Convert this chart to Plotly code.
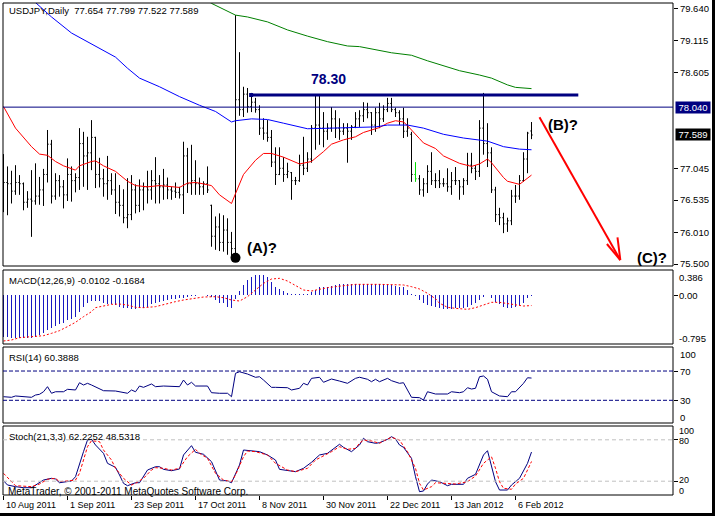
import plotly.graph_objects as go

# ---------------- data (bar index 0 = 10 Aug 2011, weekdays) ----------------
bar_open = [76.85, 76.82, 76.80, 76.68, 76.82, 76.80, 76.50, 76.55, 76.52, 76.60,
            76.70, 76.95, 77.44, 76.60, 76.85, 76.75, 76.62, 76.95, 76.85, 76.90,
            77.45, 77.25, 77.30, 77.55, 76.95, 76.88, 76.80, 76.85, 76.70, 76.50,
            76.45, 76.25, 76.30, 76.70, 76.45, 76.70, 76.75, 76.70, 76.85, 76.80,
            76.75, 76.78, 76.70, 76.68, 76.66, 76.62, 77.25, 76.80, 76.85, 76.80,
            76.75, 76.80, 76.45, 75.95, 76.10, 75.85, 76.05, 75.85, 75.75, 78.16,
            78.00, 78.25, 78.05, 78.12, 78.00, 77.70, 77.62, 77.55, 77.15, 76.95,
            77.05, 76.95, 76.98, 76.85, 76.85, 77.10, 77.05, 77.20, 77.70, 77.75,
            77.70, 77.65, 77.70, 77.85, 77.70, 77.65, 77.70, 77.65, 77.72, 77.85,
            77.90, 78.00, 77.95, 77.75, 77.95, 77.85, 78.00, 78.10, 78.00, 77.95,
            77.85, 77.65, 77.60, 76.95, 76.88, 76.70, 76.80, 77.00, 76.85, 76.85,
            76.80, 76.80, 76.75, 76.85, 76.85, 76.75, 76.85, 77.10, 77.05, 77.00,
            77.70, 77.45, 77.30, 76.70, 76.30, 76.25, 76.15, 76.20, 76.60, 76.60,
            76.85, 77.20, 77.654]
bar_high = [77.28, 77.08, 77.01, 77.10, 76.94, 76.82, 76.68, 77.02, 77.13, 76.91,
            77.04, 77.67, 77.51, 76.97, 76.94, 76.86, 77.21, 77.08, 76.97, 77.70,
            77.64, 77.56, 77.83, 77.56, 77.22, 77.04, 77.25, 76.97, 76.97, 76.78,
            76.71, 76.89, 76.94, 76.79, 76.87, 76.82, 77.01, 77.02, 77.23, 76.94,
            77.04, 76.90, 76.75, 76.82, 76.75, 77.48, 77.38, 77.43, 77.18, 76.90,
            76.84, 77.08, 76.46, 76.27, 76.32, 76.29, 76.24, 76.02, 79.53, 78.93,
            78.37, 78.35, 78.27, 78.19, 78.07, 77.86, 77.83, 77.67, 77.39, 77.39,
            77.23, 77.14, 76.99, 76.91, 77.27, 77.56, 77.31, 77.75, 78.24, 78.24,
            77.96, 77.78, 78.04, 77.99, 77.86, 77.78, 77.78, 77.75, 77.96, 77.99,
            78.12, 78.11, 77.96, 78.03, 78.11, 78.07, 78.19, 78.19, 78.03, 77.99,
            78.03, 77.86, 77.64, 77.15, 76.94, 76.89, 77.10, 77.31, 76.97, 77.02,
            76.89, 77.05, 76.99, 77.07, 76.86, 76.89, 77.30, 77.30, 77.10, 77.83,
            78.27, 77.78, 77.39, 76.75, 76.41, 76.33, 76.25, 76.70, 76.78, 76.94,
            77.31, 77.64, 77.799]
bar_low = [76.34, 76.29, 76.48, 76.62, 76.62, 76.37, 76.41, 75.94, 76.46, 76.46,
           76.44, 76.82, 76.48, 76.54, 76.59, 76.40, 76.52, 76.51, 76.66, 76.70,
           76.75, 76.70, 77.02, 76.73, 76.74, 76.59, 76.54, 76.62, 76.31, 76.27,
           76.16, 76.08, 76.21, 76.32, 76.34, 76.37, 76.48, 76.54, 76.48, 76.48,
           76.54, 76.55, 76.54, 76.57, 76.56, 76.31, 76.65, 76.62, 76.62, 76.62,
           76.62, 76.65, 75.78, 75.73, 75.71, 75.70, 75.65, 75.62, 75.60, 77.90,
           77.88, 77.95, 77.96, 77.95, 77.59, 77.51, 77.48, 77.07, 76.78, 76.94,
           76.83, 76.89, 76.54, 76.78, 76.83, 76.94, 76.99, 77.14, 77.35, 77.43,
           77.39, 77.51, 77.64, 77.54, 77.51, 77.59, 77.14, 77.51, 77.70, 77.72,
           77.80, 77.86, 77.59, 77.64, 77.70, 77.80, 77.96, 77.96, 77.88, 77.75,
           77.54, 77.56, 76.83, 76.83, 76.62, 76.59, 76.65, 76.78, 76.73, 76.73,
           76.75, 76.67, 76.62, 76.78, 76.54, 76.62, 76.78, 76.97, 76.86, 76.91,
           77.27, 77.07, 76.65, 76.18, 76.13, 76.00, 76.02, 76.13, 76.49, 76.54,
           76.83, 76.97, 77.522]
bar_close = [76.82, 76.80, 76.68, 76.82, 76.80, 76.50, 76.55, 76.52, 76.60, 76.70,
             76.95, 77.44, 76.60, 76.85, 76.75, 76.62, 76.95, 76.85, 76.90, 77.45,
             77.25, 77.30, 77.55, 76.95, 76.88, 76.80, 76.85, 76.70, 76.50, 76.45,
             76.25, 76.30, 76.70, 76.45, 76.70, 76.75, 76.70, 76.85, 76.80, 76.75,
             76.78, 76.70, 76.68, 76.66, 76.62, 77.25, 76.80, 76.85, 76.80, 76.75,
             76.80, 76.70, 75.95, 76.10, 75.85, 76.05, 75.85, 75.75, 78.16, 78.00,
             78.25, 78.05, 78.12, 78.00, 77.70, 77.62, 77.55, 77.15, 76.95, 77.05,
             76.95, 77.00, 76.85, 76.85, 77.10, 77.05, 77.20, 77.70, 77.75, 77.70,
             77.65, 77.70, 77.85, 77.70, 77.65, 77.70, 77.65, 77.72, 77.85, 77.90,
             78.00, 77.95, 77.75, 77.95, 77.85, 78.00, 78.10, 78.00, 77.95, 77.85,
             77.65, 77.70, 76.95, 76.88, 76.70, 76.80, 77.00, 76.85, 76.85, 76.80,
             76.80, 76.75, 76.85, 76.85, 76.75, 76.85, 77.10, 77.05, 77.00, 77.70,
             77.45, 77.30, 76.70, 76.30, 76.25, 76.15, 76.20, 76.60, 76.60, 76.85,
             77.20, 77.62, 77.589]
green_bar = 103

red_ma_idx = [0, 3, 7, 9, 11, 13, 15, 18, 19, 22, 23, 25, 28, 31, 33, 36, 39, 42, 44, 46,
              48, 49, 52, 54, 57, 58, 60, 63, 65, 67, 70, 74, 77, 80, 82, 85, 88, 90, 94,
              96, 98, 100, 101, 104, 105, 108, 110, 114, 117, 119, 121, 122, 125, 126, 129, 132]
red_ma_val = [78.05, 77.70, 77.40, 77.28, 77.26, 77.16, 77.09, 77.02, 77.09, 77.16, 77.17,
              77.09, 77.00, 76.84, 76.77, 76.75, 76.77, 76.75, 76.74, 76.81, 76.82, 76.81,
              76.77, 76.62, 76.48, 76.64, 76.95, 77.18, 77.29, 77.29, 77.23, 77.12, 77.16,
              77.32, 77.44, 77.51, 77.56, 77.63, 77.71, 77.78, 77.82, 77.80, 77.74, 77.53,
              77.46, 77.37, 77.25, 77.13, 77.08, 77.12, 77.20, 77.14, 76.90, 76.84, 76.79, 76.94]
blue_ma_idx = [0, 7, 12, 17, 20, 24, 28, 31, 34, 39, 44, 49, 53, 57, 58, 62, 66, 70, 76, 82,
               89, 93, 96, 101, 105, 110, 115, 121, 125, 129, 132]
blue_ma_val = [80.20, 79.80, 79.50, 79.24, 79.13, 78.99, 78.85, 78.67, 78.51, 78.37, 78.21,
               78.07, 77.97, 77.80, 77.82, 77.85, 77.84, 77.78, 77.69, 77.70, 77.71, 77.72,
               77.75, 77.75, 77.70, 77.60, 77.54, 77.49, 77.40, 77.36, 77.35]
green_ma_idx = [50, 52, 58, 61, 66, 71, 76, 81, 86, 89, 97, 102, 106, 111, 114, 119, 122, 126, 128, 132]
green_ma_val = [79.81, 79.72, 79.53, 79.50, 79.42, 79.29, 79.19, 79.10, 79.03, 79.02, 78.92,
                78.88, 78.79, 78.69, 78.63, 78.56, 78.51, 78.40, 78.36, 78.34]

macd_hist = [-0.665, -0.675, -0.68, -0.68, -0.68, -0.68, -0.68, -0.68, -0.665, -0.64,
             -0.61, -0.56, -0.53, -0.50, -0.47, -0.45, -0.40, -0.38, -0.35, -0.27,
             -0.19, -0.13, -0.10, -0.10, -0.10, -0.13, -0.15, -0.15, -0.16, -0.19,
             -0.20, -0.21, -0.22, -0.22, -0.21, -0.20, -0.19, -0.15, -0.13, -0.11,
             -0.10, -0.08, -0.07, -0.065, -0.055, -0.045, -0.03, -0.015, -0.005, 0.0,
             0.0, -0.005, -0.03, -0.08, -0.12, -0.13, -0.19, -0.21, -0.07, 0.06,
             0.16, 0.24, 0.29, 0.32, 0.32, 0.32, 0.29, 0.21, 0.13, 0.10,
             0.06, 0.03, 0.01, 0.005, 0.005, 0.005, 0.01, 0.05, 0.08, 0.12,
             0.13, 0.13, 0.15, 0.16, 0.17, 0.175, 0.175, 0.175, 0.17, 0.17,
             0.17, 0.17, 0.17, 0.17, 0.17, 0.17, 0.16, 0.16, 0.15, 0.13,
             0.12, 0.08, 0.01, -0.01, -0.08, -0.13, -0.16, -0.17, -0.19, -0.21,
             -0.23, -0.23, -0.23, -0.21, -0.21, -0.20, -0.19, -0.16, -0.12, -0.08,
             -0.03, 0.0, -0.05, -0.11, -0.15, -0.19, -0.21, -0.21, -0.19, -0.16,
             -0.13, -0.05, -0.0102]
macd_sig_idx = [0, 2, 4, 8, 10, 12, 14, 16, 18, 20, 22, 23, 25, 27, 29, 31, 33, 35, 38, 40,
                43, 45, 48, 50, 53, 55, 57, 59, 61, 63, 65, 67, 69, 71, 73, 75, 77, 79, 81,
                83, 86, 88, 94, 98, 100, 102, 104, 106, 108, 109, 111, 113, 116, 118, 120,
                122, 124, 126, 128, 130, 132]
macd_sig_val = [-0.734, -0.718, -0.681, -0.665, -0.649, -0.612, -0.569, -0.505, -0.436, -0.346,
                -0.266, -0.202, -0.170, -0.149, -0.144, -0.160, -0.197, -0.202, -0.186, -0.149,
                -0.106, -0.080, -0.053, -0.032, -0.027, -0.043, -0.080, -0.096, -0.027, 0.080,
                0.186, 0.255, 0.266, 0.223, 0.149, 0.080, 0.064, 0.096, 0.117, 0.133, 0.160,
                0.170, 0.170, 0.170, 0.160, 0.133, 0.096, 0.027, -0.060, -0.130, -0.197, -0.213,
                -0.229, -0.202, -0.160, -0.117, -0.117, -0.133, -0.160, -0.176, -0.1684]

rsi_idx = [0, 2, 3, 5, 7, 8, 9, 10, 11, 12, 13, 15, 16, 18, 19, 20, 21, 22, 24, 25, 28, 31,
           32, 33, 34, 35, 37, 38, 40, 44, 45, 46, 47, 48, 51, 52, 54, 56, 57, 58, 59, 61,
           63, 64, 65, 67, 68, 71, 72, 74, 75, 76, 77, 79, 80, 82, 84, 86, 88, 89, 91, 92,
           93, 94, 96, 97, 99, 100, 102, 104, 105, 106, 108, 111, 112, 114, 115, 116, 117,
           118, 119, 120, 121, 122, 124, 126, 127, 128, 130, 131, 132]
rsi_val = [34.9, 34.1, 35.9, 34.9, 34.1, 37.2, 38.2, 41.7, 48.6, 39.6, 41.7, 41.7, 45.0, 44.1,
           54.0, 50.9, 53.2, 50.9, 46.4, 43.1, 42.7, 39.6, 44.1, 41.7, 49.5, 47.7, 52.3, 48.6,
           49.5, 48.6, 57.7, 50.9, 54.6, 49.5, 49.5, 40.4, 39.6, 39.6, 34.9, 66.9, 69.0, 65.9,
           61.4, 62.2, 57.7, 47.7, 47.7, 47.2, 44.1, 46.4, 53.2, 50.9, 60.0, 61.4, 54.6, 59.1,
           56.3, 53.2, 60.0, 61.5, 58.7, 55.4, 58.7, 55.4, 60.0, 56.8, 53.2, 54.0, 34.1, 33.6,
           30.4, 41.7, 38.6, 38.6, 41.7, 40.4, 41.7, 47.2, 45.4, 46.4, 62.2, 63.2, 58.7, 41.7,
           35.9, 34.9, 41.7, 41.7, 53.2, 60.8, 60.3888]

stoch_k_idx = [0, 1, 3, 5, 7, 8, 10, 12, 13, 14, 15, 17, 18, 19, 20, 21, 22, 23, 25, 26, 28,
               29, 30, 31, 33, 34, 35, 36, 38, 39, 40, 42, 44, 45, 47, 48, 50, 52, 54, 56, 57,
               59, 60, 62, 64, 66, 68, 69, 73, 75, 77, 79, 81, 84, 85, 87, 89, 90, 91, 93, 94,
               96, 97, 98, 99, 100, 102, 103, 104, 105, 106, 107, 109, 111, 112, 115, 116, 118,
               120, 121, 122, 123, 124, 126, 127, 129, 131, 132]
stoch_k_val = [20.7, 14.5, 12.1, 10.6, 10.6, 14.5, 21.7, 24.2, 23.2, 17.8, 18.4, 20.3, 26.5,
               45.9, 62.8, 79.7, 80.7, 72.5, 60.4, 45.9, 40.1, 29.0, 16.9, 13.5, 17.8, 17.8,
               26.5, 36.2, 41.0, 41.0, 37.2, 35.2, 37.7, 58.0, 71.5, 61.9, 59.0, 48.3, 21.7,
               20.3, 17.8, 43.5, 65.2, 63.8, 62.8, 58.0, 50.7, 37.2, 33.8, 38.7, 47.4, 58.0,
               60.4, 73.5, 69.1, 62.8, 72.5, 82.2, 77.3, 74.9, 75.8, 80.7, 84.5, 81.2, 72.5,
               69.1, 53.2, 26.5, 4.8, 5.8, 15.9, 21.7, 19.3, 13.5, 15.5, 15.5, 24.2, 30.0,
               58.0, 64.2, 43.5, 19.3, 7.2, 7.2, 14.5, 24.2, 45.9, 62.2252]
stoch_d_idx = [0, 2, 3, 7, 9, 11, 13, 14, 16, 18, 19, 20, 21, 22, 24, 25, 27, 28, 30, 32, 33,
               35, 37, 38, 40, 42, 44, 46, 48, 49, 51, 53, 55, 57, 58, 60, 61, 63, 66, 68, 71,
               73, 76, 78, 80, 82, 84, 86, 88, 89, 90, 92, 94, 95, 97, 99, 100, 101, 103, 104,
               105, 107, 108, 111, 113, 116, 118, 120, 122, 123, 124, 125, 127, 128, 130, 131, 132]
stoch_d_val = [31.4, 19.3, 13.5, 12.1, 15.9, 22.8, 24.2, 19.3, 20.3, 21.7, 31.4, 50.7, 70.0,
               78.7, 77.3, 65.2, 50.7, 38.7, 24.2, 14.5, 16.9, 24.2, 36.2, 39.6, 38.7, 36.2,
               38.7, 55.5, 66.2, 60.4, 53.2, 31.4, 21.7, 19.3, 29.0, 55.5, 63.8, 62.8, 58.0,
               45.9, 36.2, 33.8, 38.7, 50.7, 56.5, 62.8, 70.0, 66.2, 67.6, 74.9, 79.7, 78.3,
               74.9, 78.3, 83.6, 79.7, 71.0, 62.8, 38.7, 16.9, 7.2, 12.1, 17.8, 16.9, 15.9,
               19.3, 27.5, 45.9, 55.5, 38.7, 19.3, 9.7, 8.3, 15.9, 24.2, 36.2, 48.5318]

date_tick_idx = [0, 16, 32, 48, 64, 80, 96, 112, 128]
date_tick_labels = ["10 Aug 2011", "1 Sep 2011", "23 Sep 2011", "17 Oct 2011", "8 Nov 2011",
                    "30 Nov 2011", "22 Dec 2011", "13 Jan 2012", "6 Feb 2012"]
price_tick_vals = [79.640, 79.115, 78.605, 77.045, 76.535, 76.010, 75.500]
price_tick_text = ["79.640", "79.115", "78.605", "77.045", "76.535", "76.010", "75.500"]

header_text = "USDJPY,Daily  77.654 77.799 77.522 77.589"
macd_title = "MACD(12,26,9) -0.0102 -0.1684"
rsi_title = "RSI(14) 60.3888"
stoch_title = "Stoch(21,3,3) 62.2252 48.5318"
copyright_text = "MetaTrader, © 2001-2011 MetaQuotes Software Corp."

# drawn objects (data units: bar index, price)
level_price = 78.040
last_price = 77.589
resist_line = dict(x0=61.9, x1=143.7, y=78.236, label="78.30", lx=81.2, ly=78.495)
arrow_main = dict(x0=134.0, y0=77.875, x1=154.2, y1=75.565)
arrow_heads = [(150.85, 75.824), (153.5, 75.932)]
wave_labels = [("(A)?", 64.7, 75.76), ("(B)?", 139.9, 77.767), ("(C)?", 162.2, 75.613)]
wave_a_bar = 58

# ---------------- figure ----------------
FONT = "Liberation Sans, Arial, sans-serif"
NAVY = "#000080"
HIST_BLUE = "#1818c0"
W, H = 715, 516
L, R, T, B = 3, 42, 3, 21
PW, PH = W - L - R, H - T - B


def px2x(px):
    return (px - L) / PW


def py2y(py):
    return (T + PH - py) / PH


dom_main = [py2y(266), 1.0]
dom_macd = [py2y(344), py2y(270)]
dom_rsi = [py2y(423), py2y(347)]
dom_sto = [0.0, py2y(426)]

n = len(bar_close)
idx = list(range(n))
fig = go.Figure()

keep = [i for i in idx if i != green_bar]
fig.add_trace(go.Ohlc(x=keep, open=[bar_open[i] for i in keep], high=[bar_high[i] for i in keep],
                      low=[bar_low[i] for i in keep], close=[bar_close[i] for i in keep],
                      increasing=dict(line=dict(color="black", width=1)),
                      decreasing=dict(line=dict(color="black", width=1)),
                      tickwidth=0.3, xaxis="x", yaxis="y", showlegend=False))
fig.add_trace(go.Ohlc(x=[green_bar], open=[bar_open[green_bar]], high=[bar_high[green_bar]],
                      low=[bar_low[green_bar]], close=[bar_close[green_bar]],
                      increasing=dict(line=dict(color="#00dd00", width=1)),
                      decreasing=dict(line=dict(color="#00dd00", width=1)),
                      tickwidth=0.3, xaxis="x", yaxis="y", showlegend=False))

fig.add_trace(go.Scatter(x=red_ma_idx, y=red_ma_val, mode="lines", line=dict(color="#ff0000", width=1), yaxis="y"))
fig.add_trace(go.Scatter(x=blue_ma_idx, y=blue_ma_val, mode="lines", line=dict(color="#0000ff", width=1), yaxis="y"))
fig.add_trace(go.Scatter(x=green_ma_idx, y=green_ma_val, mode="lines", line=dict(color="#008000", width=1), yaxis="y"))

fig.add_trace(go.Scatter(x=[wave_a_bar], y=[bar_low[wave_a_bar]], mode="markers",
                         marker=dict(color="black", size=10), cliponaxis=False, yaxis="y"))
fig.add_trace(go.Scatter(x=[resist_line["x0"]], y=[resist_line["y"]], mode="markers",
                         marker=dict(color=NAVY, size=4, symbol="square"), yaxis="y"))

fig.add_trace(go.Bar(x=idx, y=macd_hist, width=0.25, marker=dict(color=HIST_BLUE, line=dict(width=0)), yaxis="y2"))
fig.add_trace(go.Scatter(x=macd_sig_idx, y=macd_sig_val, mode="lines",
                         line=dict(color="#ff0000", width=1, dash="2px,2px"), yaxis="y2"))

fig.add_trace(go.Scatter(x=rsi_idx, y=rsi_val, mode="lines", line=dict(color=NAVY, width=1), yaxis="y3"))

fig.add_trace(go.Scatter(x=stoch_k_idx, y=stoch_k_val, mode="lines", line=dict(color=NAVY, width=1), yaxis="y4"))
fig.add_trace(go.Scatter(x=stoch_d_idx, y=stoch_d_val, mode="lines",
                         line=dict(color="#ff0000", width=1, dash="3px,2px"), yaxis="y4"))

shapes = []
for d in (dom_main, dom_macd, dom_rsi, dom_sto):
    shapes.append(dict(type="rect", xref="paper", yref="paper", x0=0, x1=1, y0=d[0], y1=d[1],
                       line=dict(color="black", width=1), fillcolor="rgba(0,0,0,0)"))
# window frame (right and bottom)
shapes.append(dict(type="rect", xref="paper", yref="paper", x0=px2x(712), x1=px2x(720),
                   y0=py2y(520), y1=py2y(-5), line=dict(width=0), fillcolor="black"))
shapes.append(dict(type="rect", xref="paper", yref="paper", x0=px2x(-5), x1=px2x(720),
                   y0=py2y(520), y1=py2y(513), line=dict(width=0), fillcolor="black"))
shapes.append(dict(type="line", xref="paper", yref="y", x0=0, x1=1, y0=level_price, y1=level_price,
                   line=dict(color=NAVY, width=1)))
shapes.append(dict(type="line", xref="x", yref="y", x0=resist_line["x0"], x1=resist_line["x1"],
                   y0=resist_line["y"], y1=resist_line["y"], line=dict(color=NAVY, width=3)))
shapes.append(dict(type="line", xref="x", yref="y", x0=arrow_main["x0"], y0=arrow_main["y0"],
                   x1=arrow_main["x1"], y1=arrow_main["y1"], line=dict(color="#ff0000", width=2)))
for hx, hy in arrow_heads:
    shapes.append(dict(type="line", xref="x", yref="y", x0=hx, y0=hy,
                       x1=arrow_main["x1"], y1=arrow_main["y1"], line=dict(color="#ff0000", width=2)))
for lv in (70, 30):
    shapes.append(dict(type="line", xref="paper", yref="y3", x0=0, x1=1, y0=lv, y1=lv,
                       line=dict(color=NAVY, width=1, dash="4px,2px")))
for lv in (80, 20):
    shapes.append(dict(type="line", xref="paper", yref="y4", x0=0, x1=1, y0=lv, y1=lv,
                       line=dict(color="#c0c0c0", width=1, dash="4px,3px")))

ann = []


def txt(text, px, py, size=9.5, color="black", xanchor="left", bold=False, **kw):
    t = "<b>%s</b>" % text if bold else text
    ann.append(dict(text=t, x=px2x(px), y=py2y(py), xref="paper", yref="paper", showarrow=False,
                    xanchor=xanchor, yanchor="middle", font=dict(family=FONT, size=size, color=color), **kw))


txt(header_text, 7, 11)
txt(macd_title, 7, 280)
txt(rsi_title, 7, 357)
txt(stoch_title, 7, 436)
txt(copyright_text, 6, 491, size=10)

for lab, py in (("0.386", 277.3), ("0.00", 295), ("-0.795", 338.3)):
    txt(lab, 677, py)
for lab, py in (("100", 354), ("70", 371), ("30", 400), ("0", 417)):
    txt(lab, 678, py)
for lab, py in (("100", 430.5), ("80", 441), ("20", 479.5), ("0", 490.5)):
    txt(lab, 677, py, size=9)

for ti, lab in zip(date_tick_idx, date_tick_labels):
    ann.append(dict(text=lab, x=ti, y=py2y(505), xref="x", yref="paper", showarrow=False,
                    xanchor="left", yanchor="middle", xshift=0,
                    font=dict(family=FONT, size=9, color="black")))

ann.append(dict(text="78.040", x=px2x(675), y=level_price, xref="paper", yref="y", showarrow=False,
                xanchor="left", yanchor="middle", bgcolor=NAVY, borderpad=0, width=34, height=11,
                font=dict(family=FONT, size=9.5, color="white")))
ann.append(dict(text="77.589", x=px2x(675), y=last_price, xref="paper", yref="y", showarrow=False,
                xanchor="left", yanchor="middle", bgcolor="black", borderpad=0, width=34, height=11,
                font=dict(family=FONT, size=9.5, color="white")))

ann.append(dict(text="<b>%s</b>" % resist_line["label"], x=resist_line["lx"], y=resist_line["ly"],
                xref="x", yref="y", showarrow=False, font=dict(family=FONT, size=14, color=NAVY)))
for lab, lx, ly in wave_labels:
    ann.append(dict(text="<b>%s</b>" % lab, x=lx, y=ly, xref="x", yref="y", showarrow=False,
                    font=dict(family=FONT, size=15, color="black")))

axis_common = dict(showgrid=False, zeroline=False, side="right", anchor="x", ticks="outside",
                   ticklen=4, tickcolor="black", tickfont=dict(family=FONT, size=9.5, color="black"),
                   fixedrange=True)

fig.update_layout(
    width=W, height=H, margin=dict(l=L, r=R, t=T, b=B), autosize=False,
    paper_bgcolor="white", plot_bgcolor="white", showlegend=False, bargap=0,
    shapes=shapes, annotations=ann, hovermode=False,
    xaxis=dict(domain=[0, 1], range=[-0.125, PW / 4 - 0.125], anchor="y4", showgrid=False, zeroline=False,
               tickmode="array", tickvals=date_tick_idx, ticks="outside", ticklen=4, tickcolor="black",
               showticklabels=False, rangeslider=dict(visible=False), fixedrange=True),
    yaxis=dict(domain=dom_main, range=[75.468, 79.726], tickmode="array", tickvals=price_tick_vals,
               ticktext=price_tick_text, **axis_common),
    yaxis2=dict(domain=dom_macd, range=[-0.782, 0.399], tickmode="array", tickvals=[0],
                showticklabels=False, **axis_common),
    yaxis3=dict(domain=dom_rsi, range=[-1.0, 102.8], tickmode="array", tickvals=[70, 30],
                showticklabels=False, **axis_common),
    yaxis4=dict(domain=dom_sto, range=[0, 100], tickmode="array", tickvals=[80, 20],
                showticklabels=False, **axis_common),
)

fig.write_html("out.html")
